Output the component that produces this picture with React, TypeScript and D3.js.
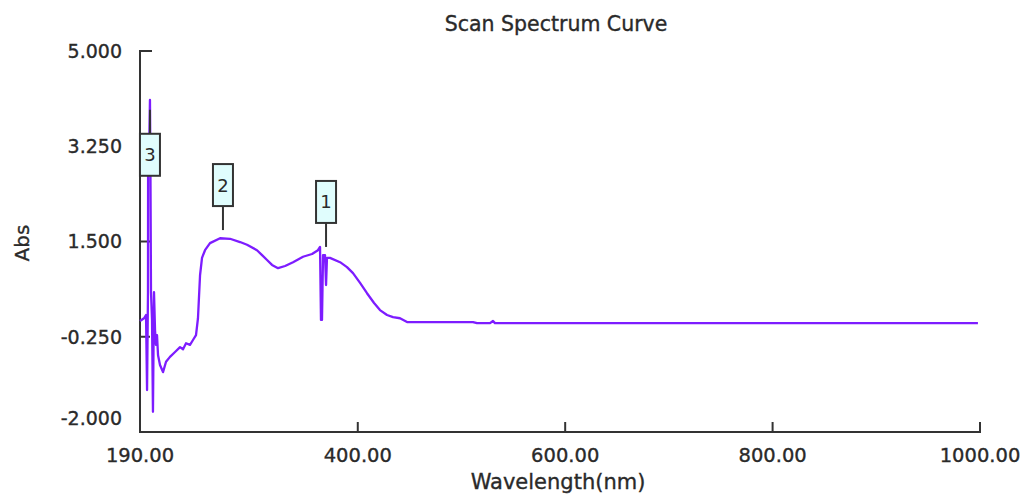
import React from 'react'
import * as d3 from 'd3'

// wavelength (nm) and absorbance
const wavelengths = [
    190.0, 193.9, 195.8, 196.8, 197.7, 197.8, 198.7, 199.6, 200.1, 200.6,
    201.6, 202.5, 203.5, 204.5, 205.4, 206.4, 207.4, 209.3, 212.2, 215.1,
    218.9, 223.8, 228.6, 231.5, 234.4, 238.2, 241.1, 244.0, 245.9, 247.9,
    249.8, 252.7, 257.5, 267.2, 276.8, 286.5, 293.2, 302.8, 307.7, 312.5,
    317.3, 323.1, 329.9, 337.6, 347.2, 355.9, 361.6, 363.6, 364.5, 365.5,
    366.5, 368.4, 369.4, 370.3, 373.2, 382.9, 389.6, 395.4, 402.2, 408.9,
    415.7, 421.4, 428.2, 434.0, 440.7, 447.5, 511.1, 515.0, 527.5, 530.4,
    532.3, 633.6, 998.0
]
const absorbance = [
    0.04, 0.09, 0.15, -1.23, 0.57, 2.72, 3.00, 4.10, 2.72, 0.57,
    0.06, -1.63, 0.57, -0.13, -0.40, -0.22, -0.59, -0.77, -0.90, -0.71,
    -0.62, -0.53, -0.44, -0.48, -0.37, -0.40, -0.31, -0.22, 0.09, 0.88,
    1.20, 1.34, 1.47, 1.56, 1.55, 1.49, 1.44, 1.34, 1.25, 1.16,
    1.07, 1.01, 1.05, 1.12, 1.22, 1.27, 1.34, 1.40, 0.06, 0.06,
    1.25, 1.25, 0.70, 1.20, 1.20, 1.12, 1.03, 0.92, 0.74, 0.55,
    0.37, 0.24, 0.15, 0.11, 0.09, 0.02, 0.02, 0.00, 0.00, 0.04,
    0.00, 0.00, 0.00
]

const peakLabels = ['1', '2', '3']
const peakWavelengths = [369.4, 270.0, 199.6]
const peakAbs = [1.40, 1.71, 3.92]

const xTicks = [190, 400, 600, 800, 1000]
const yTicks = [5, 3.25, 1.5, -0.25, -2]

const App = () => {
    const width = 1025
    const height = 496
    const margin = { top: 51, right: 45, bottom: 64, left: 140 }
    const plotRight = width - margin.right
    const plotBottom = height - margin.bottom

    const xScale = d3.scaleLinear().domain([190, 1000]).range([margin.left, plotRight])
    const yScale = d3.scaleLinear().domain([-2, 5]).range([plotBottom, margin.top])

    const line = d3.line<number>()
        .x((d, i) => xScale(wavelengths[i]))
        .y(d => yScale(d))

    const font = '"DejaVu Sans", Verdana, sans-serif'
    const axisColor = '#333'
    const textColor = '#2a2a2a'
    const tickLen = 10
    // the screenshot text is a bit heavier than plain regular weight
    const heavy = { stroke: textColor, strokeWidth: 0.35 }

    return (
        <svg width={width} height={height} style={{ position: 'absolute', left: 0, top: 0 }}
            fontFamily={font}>
            <rect width={width} height={height} fill="#fff" />
            <text x={556} y={31} textAnchor="middle" fontSize={20.5} fill={textColor} {...heavy}>Scan Spectrum Curve</text>

            {/* y axis */}
            <path d={`M${margin.left + 12},${margin.top}H${margin.left}V${plotBottom}H${plotRight}V${plotBottom - tickLen}`}
                fill="none" stroke={axisColor} strokeWidth={2} />
            {yTicks.map(t => (
                <g key={t}>
                    {t !== 5 && t !== -2 &&
                        <line x1={margin.left} x2={margin.left + tickLen} y1={yScale(t)} y2={yScale(t)}
                            stroke={axisColor} strokeWidth={2} />}
                    <text x={122} y={Math.min(yScale(t), plotBottom - 14)} dy="0.36em" textAnchor="end"
                        fontSize={19} fill={textColor} {...heavy}>{t.toFixed(3)}</text>
                </g>
            ))}
            <text transform={`translate(29,243) rotate(-90)`} textAnchor="middle" fontSize={20}
                fill={textColor} {...heavy}>Abs</text>

            {/* x axis */}
            {xTicks.map(t => (
                <g key={t}>
                    {t !== 190 && t !== 1000 &&
                        <line x1={xScale(t)} x2={xScale(t)} y1={plotBottom} y2={plotBottom - tickLen}
                            stroke={axisColor} strokeWidth={2} />}
                    <text x={xScale(t)} y={462} textAnchor="middle" fontSize={19.5} fill={textColor} {...heavy}>{t.toFixed(2)}</text>
                </g>
            ))}
            <text x={558} y={489} textAnchor="middle" fontSize={21} fill={textColor} {...heavy}>Wavelength(nm)</text>

            <path d={line(absorbance) || ''} fill="none" stroke="#7d1cff" strokeWidth={2.3} strokeLinejoin="round" />

            {/* peak markers */}
            {peakLabels.map((lab, i) => {
                const px = xScale(peakWavelengths[i])
                const py = yScale(peakAbs[i])
                const lead = 24
                const boxH = 42
                const boxW = 20
                const above = py - lead - boxH >= margin.top
                const boxY = above ? py - lead - boxH : py + lead
                return (
                    <g key={lab}>
                        <line x1={px} x2={px} y1={py} y2={above ? py - lead : py + lead}
                            stroke={axisColor} strokeWidth={2} />
                        <rect x={px - boxW / 2} y={boxY} width={boxW} height={boxH}
                            fill="#e0fdfd" stroke={axisColor} strokeWidth={2} />
                        <text x={px} y={boxY + boxH / 2} dy="0.36em" textAnchor="middle" fontSize={18}
                            fill={textColor}>{lab}</text>
                    </g>
                )
            })}
        </svg>
    )
}

export default App
